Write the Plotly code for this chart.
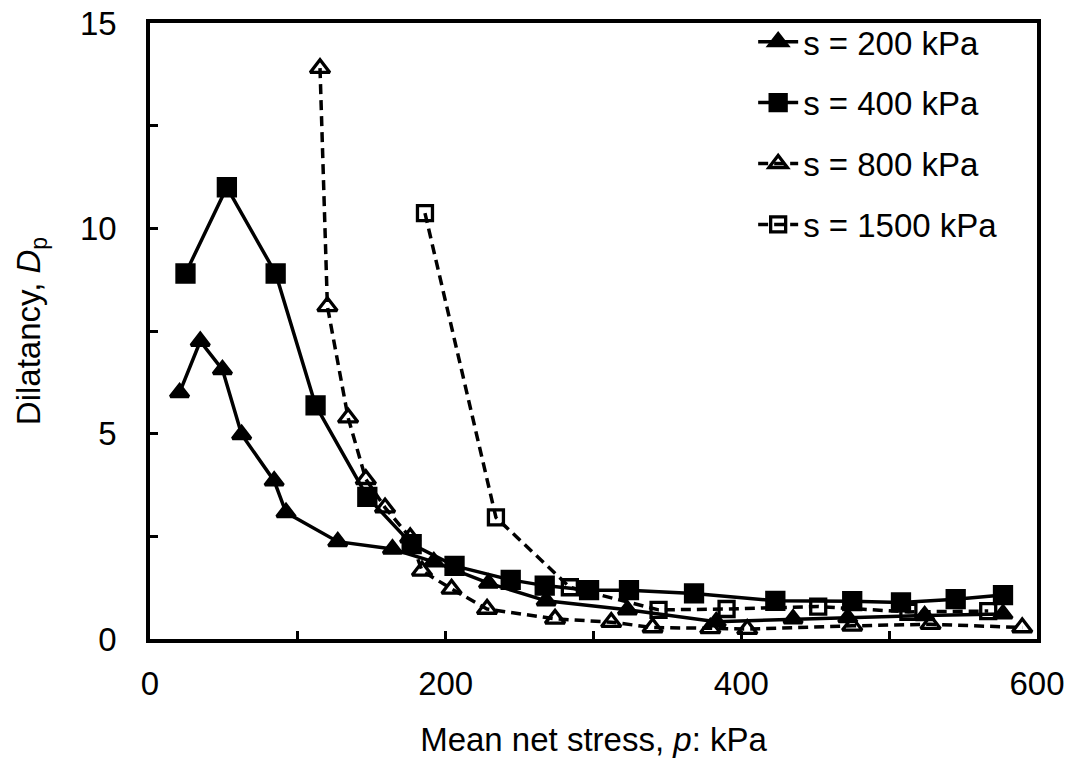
import plotly.graph_objects as go

# Mean net stress p (kPa) and dilatancy Dp for each suction level
p_200 = [20, 34, 49, 62, 84, 92, 127, 164, 192, 229, 268, 323, 383, 435, 472, 524, 577]
d_200 = [6.0, 7.25, 6.56, 4.98, 3.85, 3.08, 2.37, 2.19, 1.88, 1.36, 0.93, 0.71, 0.42, 0.49, 0.52, 0.57, 0.61]

p_400 = [24, 52, 85, 112, 147, 177, 206, 244, 267, 297, 324, 368, 423, 475, 508, 545, 577]
d_400 = [8.9, 11.0, 8.9, 5.69, 3.46, 2.31, 1.78, 1.44, 1.30, 1.19, 1.19, 1.11, 0.93, 0.92, 0.89, 0.97, 1.07]

p_800 = [115, 120, 134, 146, 159, 176, 184, 204, 228, 274, 312, 340, 379, 404, 475, 528, 590]
d_800 = [13.9, 8.1, 5.39, 3.89, 3.2, 2.47, 1.66, 1.22, 0.73, 0.49, 0.41, 0.28, 0.26, 0.24, 0.32, 0.36, 0.28]

p_1500 = [186, 234, 284, 344, 390, 452, 513, 567]
d_1500 = [10.37, 2.96, 1.26, 0.71, 0.73, 0.79, 0.66, 0.68]

names = ["s = 200 kPa", "s = 400 kPa", "s = 800 kPa", "s = 1500 kPa"]

FONT = "Liberation Sans, Arial, sans-serif"
FS = 33

series = [
    (p_200, d_200, names[0], "triangle-up", 16, "solid"),
    (p_400, d_400, names[1], "square", 17, "solid"),
    (p_800, d_800, names[2], "triangle-up-open", 17, "10px,6px"),
    (p_1500, d_1500, names[3], "square-open", 15, "10px,6px"),
]

fig = go.Figure()
for i, (xs, ys, nm, sym, sz, dash) in enumerate(series):
    fig.add_trace(go.Scatter(
        x=xs, y=ys, name=nm, mode="lines+markers",
        legendgroup=str(i),
        line=dict(color="black", width=3.5, dash=dash),
        marker=dict(symbol=sym, size=sz, color="black",
                    line=dict(color="black", width=3.3)),
        cliponaxis=False,
    ))

axis_common = dict(
    showline=True, linecolor="black", linewidth=3.5, mirror=True,
    ticks="inside", ticklen=8, tickwidth=2.5, tickcolor="black",
    showgrid=False, zeroline=False, automargin=False,
    tickfont=dict(family=FONT, size=FS, color="black"),
)

fig.update_xaxes(
    range=[0, 600], tickvals=[0, 200, 400, 600],
    minor=dict(dtick=100, ticks="inside", ticklen=8, tickwidth=2.5, tickcolor="black"),
    ticklabelstandoff=13,
    title=dict(text="Mean net stress, <i>p</i>: kPa",
               font=dict(family=FONT, size=FS, color="black"), standoff=28),
    **axis_common,
)
fig.update_yaxes(
    range=[0, 15], tickvals=[0, 5, 10, 15],
    minor=dict(dtick=2.5, ticks="inside", ticklen=8, tickwidth=2.5, tickcolor="black"),
    ticklabelstandoff=23,
    title=dict(text="Dilatancy, <i>D</i><sub>p</sub>",
               font=dict(family=FONT, size=FS, color="black"), standoff=30),
    **axis_common,
)

fig.update_layout(
    width=1075, height=760,
    margin=dict(l=150, r=38, t=23, b=121),
    paper_bgcolor="white", plot_bgcolor="white",
    font=dict(family=FONT, size=FS, color="black"),
    legend=dict(x=0.68, y=1.015, xanchor="left", yanchor="top",
                bgcolor="rgba(0,0,0,0)", tracegroupgap=15,
                itemwidth=40, font=dict(family=FONT, size=FS, color="black")),
)

fig.write_html("out.html")
